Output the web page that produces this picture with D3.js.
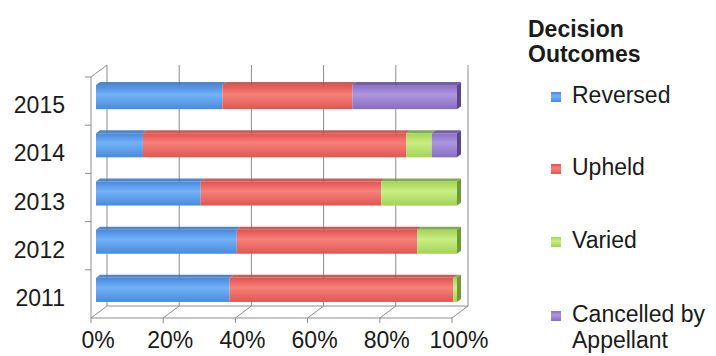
<!DOCTYPE html>
<html>
<head>
<meta charset="utf-8">
<script src="https://cdn.jsdelivr.net/npm/d3@7"></script>
<style>
  body { margin: 0; background: #fff; }
  svg text { font-family: "Liberation Sans", Arial, sans-serif; fill: #1a1a1a; }
</style>
</head>
<body>
<div id="chart"></div>
<script>
// data (percent of decisions per year)
var years = ["2011", "2012", "2013", "2014", "2015"];
var reversed = [37, 39, 29, 13, 35];
var upheld = [62, 50, 50, 73, 36];
var varied = [1, 11, 21, 7, 0];
var cancelled = [0, 0, 0, 7, 29];
var seriesNames = ["Reversed", "Upheld", "Varied", "Cancelled by Appellant"];
var xTicks = [0, 20, 40, 60, 80, 100];

var width = 716, height = 356;

var svg = d3.select("#chart")
  .append("svg")
    .attr("width", width)
    .attr("height", height);

// front plane of the 3d box
var front = {left: 91, right: 452, top: 77, bottom: 318};
var depth = {dx: 16, dy: -12};   // back wall offset
var barOff = {dx: 5, dy: -4};    // bars sit a little behind the front
var barDepth = {dx: 4, dy: -3};

var x = d3.scaleLinear()
  .domain([0, 100])
  .range([0, front.right - front.left]);

var y = d3.scaleBand()
  .domain(years.slice().reverse())
  .range([front.top, front.bottom])
  .paddingInner(0.5)
  .paddingOuter(0.25);

var yBand = d3.scaleBand()
  .domain(years.slice().reverse())
  .range([front.top, front.bottom]);

var colors = [
  ["#4788df", "#72b2f6", "#4a8ade", "#3a6fb8"],
  ["#e4524f", "#f58178", "#e05752", "#b84540"],
  ["#a2d455", "#c9ee85", "#a3d257", "#6f9a36"],
  ["#8b6fc6", "#ad97de", "#876cc0", "#5a4690"]
];

var defs = svg.append("defs");
colors.forEach(function(c, i) {
  var g = defs.append("linearGradient")
    .attr("id", "grad" + i)
    .attr("x1", 0).attr("y1", 0).attr("x2", 0).attr("y2", 1);
  g.append("stop").attr("offset", "0%").attr("stop-color", c[0]);
  g.append("stop").attr("offset", "40%").attr("stop-color", c[1]);
  g.append("stop").attr("offset", "100%").attr("stop-color", c[2]);
});

var axisColor = "#8c8c8c";
var grid = svg.append("g")
  .attr("stroke", axisColor)
  .attr("stroke-width", 1)
  .attr("fill", "none");

// back wall gridlines
grid.selectAll(".vgrid")
  .data(xTicks)
  .enter().append("line")
    .attr("x1", function(d) { return front.left + x(d) + depth.dx; })
    .attr("x2", function(d) { return front.left + x(d) + depth.dx; })
    .attr("y1", front.top + depth.dy)
    .attr("y2", front.bottom + depth.dy);

// floor depth lines
grid.selectAll(".floor")
  .data(xTicks)
  .enter().append("line")
    .attr("x1", function(d) { return front.left + x(d); })
    .attr("x2", function(d) { return front.left + x(d) + depth.dx; })
    .attr("y1", front.bottom)
    .attr("y2", front.bottom + depth.dy);

grid.append("line")
  .attr("x1", front.left + depth.dx).attr("x2", front.right + depth.dx)
  .attr("y1", front.bottom + depth.dy).attr("y2", front.bottom + depth.dy);

// left wall
grid.append("line")
  .attr("x1", front.left).attr("x2", front.left + depth.dx)
  .attr("y1", front.top).attr("y2", front.top + depth.dy);

grid.selectAll(".ltick")
  .data(years)
  .enter().append("line")
    .attr("x1", front.left - 6)
    .attr("x2", front.left)
    .attr("y1", function(d) { return yBand(d); })
    .attr("y2", function(d) { return yBand(d); });

// stacked bars
var rows = years.map(function(yr, i) {
  return {year: yr, s0: reversed[i], s1: upheld[i], s2: varied[i], s3: cancelled[i]};
});
var stacked = d3.stack().keys(["s0", "s1", "s2", "s3"])(rows);

var bars = svg.append("g");
stacked.forEach(function(layer, li) {
  layer.forEach(function(d) {
    if (d[1] - d[0] <= 0) return;
    var x0 = front.left + barOff.dx + x(d[0]);
    var x1 = front.left + barOff.dx + x(d[1]);
    var yt = y(d.data.year) + barOff.dy;
    var h = y.bandwidth();
    // top face
    bars.append("path")
      .attr("d", "M" + x0 + "," + yt +
        "L" + (x0 + barDepth.dx) + "," + (yt + barDepth.dy) +
        "L" + (x1 + barDepth.dx) + "," + (yt + barDepth.dy) +
        "L" + x1 + "," + yt + "Z")
      .attr("fill", colors[li][3])
      .attr("opacity", 0.85);
    bars.append("rect")
      .attr("x", x0)
      .attr("y", yt)
      .attr("width", x1 - x0)
      .attr("height", h)
      .attr("fill", "url(#grad" + li + ")");
    if (d[1] >= 99.9) {
      bars.append("path")
        .attr("d", "M" + x1 + "," + yt +
          "L" + (x1 + barDepth.dx) + "," + (yt + barDepth.dy) +
          "L" + (x1 + barDepth.dx) + "," + (yt + barDepth.dy + h) +
          "L" + x1 + "," + (yt + h) + "Z")
        .attr("fill", colors[li][3]);
    }
  });
});

// front edges drawn over the bars
var edges = svg.append("g")
  .attr("stroke", axisColor)
  .attr("stroke-width", 1)
  .attr("fill", "none");
edges.append("line")
  .attr("x1", front.left).attr("x2", front.left)
  .attr("y1", front.top).attr("y2", front.bottom);
edges.append("line")
  .attr("x1", front.left).attr("x2", front.right)
  .attr("y1", front.bottom).attr("y2", front.bottom);
edges.selectAll(".btick")
  .data(xTicks)
  .enter().append("line")
    .attr("x1", function(d) { return front.left + x(d); })
    .attr("x2", function(d) { return front.left + x(d); })
    .attr("y1", front.bottom)
    .attr("y2", front.bottom + 5);

// labels
svg.selectAll(".ylab")
  .data(years)
  .enter().append("text")
    .attr("x", 65)
    .attr("y", function(d) { return yBand(d) + yBand.bandwidth() / 2 + 12; })
    .attr("text-anchor", "end")
    .style("font-size", "23px")
    .text(function(d) { return d; });

svg.selectAll(".xlab")
  .data(xTicks)
  .enter().append("text")
    .attr("x", function(d) { return front.left + x(d) + 7; })
    .attr("y", 348)
    .attr("text-anchor", "middle")
    .style("font-size", "23px")
    .text(function(d) { return d + "%"; });

// legend
var legend = svg.append("g");
legend.append("text")
  .attr("x", 528).attr("y", 37)
  .style("font-size", "23px").style("font-weight", "bold")
  .text("Decision");
legend.append("text")
  .attr("x", 528).attr("y", 62)
  .style("font-size", "23px").style("font-weight", "bold")
  .text("Outcomes");

var legendY = [103, 175, 248, 322];
seriesNames.forEach(function(name, i) {
  legend.append("rect")
    .attr("x", 551).attr("y", legendY[i] - 11)
    .attr("width", 10).attr("height", 10)
    .attr("fill", "url(#grad" + i + ")");
  var t = legend.append("text")
    .attr("x", 572).attr("y", legendY[i])
    .style("font-size", "23px");
  if (name === "Cancelled by Appellant") {
    t.append("tspan").attr("x", 572).text("Cancelled by");
    t.append("tspan").attr("x", 572).attr("dy", 26).text("Appellant");
  } else {
    t.text(name);
  }
});
</script>
</body>
</html>
